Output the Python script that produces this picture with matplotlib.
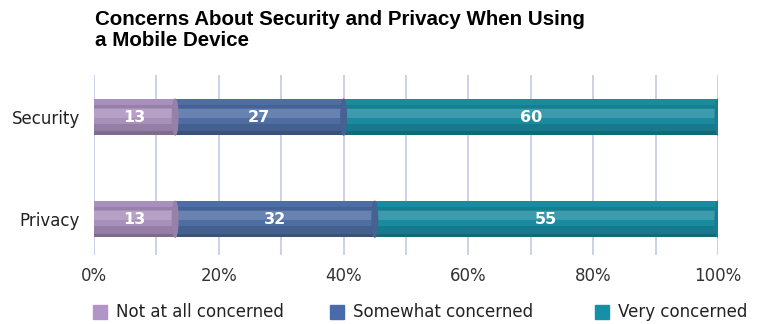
import matplotlib.pyplot as plt
import numpy as np
from matplotlib.patches import Rectangle, Ellipse

categories = ['Privacy', 'Security']
not_concerned = [13, 13]
somewhat = [32, 27]
very = [55, 60]
series_names = ['Not at all concerned', 'Somewhat concerned', 'Very concerned']
colors = ['#a98fbb', '#4d6da3', '#1a8b9f']
legend_colors = ['#b195c6', '#4a6bab', '#1690a6']
ticks = [0, 20, 40, 60, 80, 100]


def lighten(c, f):
	rgb = np.array(plt.matplotlib.colors.to_rgb(c))
	return tuple(rgb + (1 - rgb) * f)


def darken(c, f):
	rgb = np.array(plt.matplotlib.colors.to_rgb(c))
	return tuple(rgb * (1 - f))


W, H = 760, 324
fig = plt.figure(figsize=(7.6, 3.24), dpi=100)
ax = fig.add_axes([0.1237, 0.213, 0.821, 0.555])

y = np.arange(len(categories))
h = 0.35
lefts = np.zeros(len(categories))
for vals, c in zip([not_concerned, somewhat, very], colors):
	vals = np.array(vals, dtype=float)
	ax.barh(y, vals, left=lefts, height=h, color=c, zorder=2)
	# cylinder shading
	ax.barh(y - h * 0.35, vals, left=lefts, height=h * 0.3, color=darken(c, 0.12), zorder=2.1)
	ax.barh(y - h * 0.45, vals, left=lefts, height=h * 0.1, color=darken(c, 0.25), zorder=2.2)
	ax.barh(y + h * 0.1, vals, left=lefts, height=h * 0.25, color=lighten(c, 0.15), zorder=2.1)
	ax.barh(y + h * 0.3, vals, left=lefts, height=h * 0.08, color=darken(c, 0.1), zorder=2.2)
	for yi, l, v in zip(y, lefts, vals):
		ax.add_patch(Ellipse((l + v, yi), 0.9, h, color=darken(c, 0.1), zorder=2.3))
		ax.text(l + v / 2, yi, '%d' % v, ha='center', va='center', color='white',
				fontsize=11.5, fontweight='bold', zorder=3)
	lefts += vals

ax.set_xlim(0, 100)
ax.set_ylim(-0.35, 1.41)
ax.set_xticks(np.arange(0, 101, 10), minor=False)
ax.set_xticklabels(['%d%%' % t if t in ticks else '' for t in range(0, 101, 10)], fontsize=12, color='#333333')
ax.set_yticks(y)
ax.set_yticklabels(categories, fontsize=12, color='#222222')
ax.tick_params(axis='x', length=0, pad=9)
ax.tick_params(axis='y', length=0, pad=10)
ax.xaxis.grid(True, color='#c5c8e6', linewidth=1.2, zorder=0)
for s in ax.spines.values():
	s.set_visible(False)

fig.text(0.125, 0.97, 'Concerns About Security and Privacy When Using\na Mobile Device',
		 fontsize=14.8, fontweight='bold', va='top', ha='left', linespacing=1.12,
		 family=['Liberation Sans', 'DejaVu Sans'])

# legend, placed by hand to match the spacing
leg_x = [93, 330, 595]
leg_y = 312
for px, name, c in zip(leg_x, series_names, legend_colors):
	fig.patches.append(Rectangle((px / W, (H - leg_y - 7) / H), 14 / W, 14 / H,
								 transform=fig.transFigure, color=c))
	fig.text((px + 23) / W, (H - leg_y) / H, name, fontsize=12, va='center', ha='left',
			 color='#222222')

plt.savefig('out.png', dpi=100)
